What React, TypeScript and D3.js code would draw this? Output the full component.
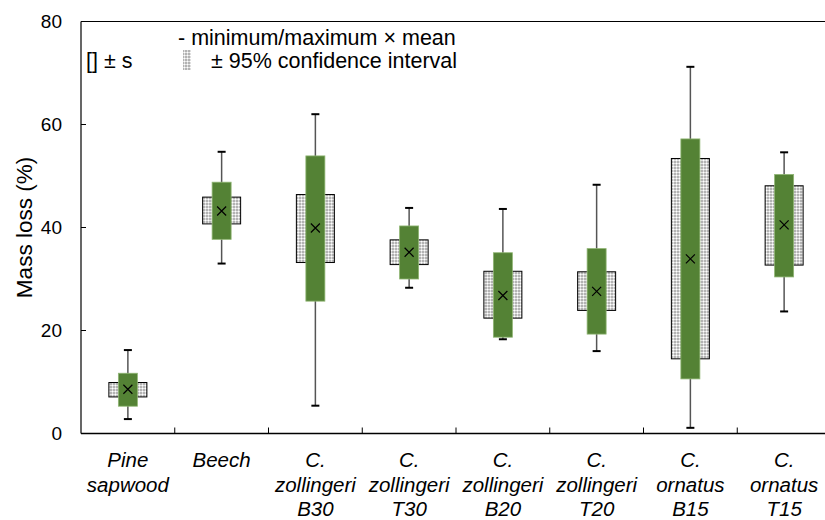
import React from "react";
import * as d3 from "d3";

// categories, label lines
const categories = ["Pine sapwood", "Beech", "C. zollingeri B30", "C. zollingeri T30", "C. zollingeri B20", "C. zollingeri T20", "C. ornatus B15", "C. ornatus T15"];
const labelLines = [
  ["Pine", "sapwood"],
  ["Beech"],
  ["C.", "zollingeri", "B30"],
  ["C.", "zollingeri", "T30"],
  ["C.", "zollingeri", "B20"],
  ["C.", "zollingeri", "T20"],
  ["C.", "ornatus", "B15"],
  ["C.", "ornatus", "T15"],
];

// values (mass loss %)
const minVals = [2.8, 33.0, 5.4, 28.3, 18.3, 16.0, 1.1, 23.7];
const maxVals = [16.2, 54.7, 62.0, 43.8, 43.6, 48.3, 71.2, 54.6];
const meanVals = [8.6, 43.2, 39.9, 35.2, 26.8, 27.6, 33.9, 40.5];
const sdLow = [5.3, 37.7, 25.7, 30.0, 18.7, 19.3, 10.6, 30.4];
const sdHigh = [11.7, 48.8, 53.9, 40.3, 35.1, 35.9, 57.2, 50.3];
const ciLow = [7.1, 40.7, 33.2, 32.8, 22.4, 23.9, 14.5, 32.7];
const ciHigh = [9.9, 45.9, 46.4, 37.6, 31.5, 31.4, 53.4, 48.1];
const yTicks = [0, 20, 40, 60, 80];

const W = 825, H = 520;
const font = "'Liberation Sans', Arial, sans-serif";
const green = "#548235";

export default function App() {
  const x = d3.scaleBand().domain(categories).range([81, 831]).padding(0);
  const y = d3.scaleLinear().domain([0, 80]).range([433.5, 21.5]);
  const bw = x.bandwidth();

  return (
    <svg width={W} height={H} style={{ position: "absolute", left: 0, top: 0 }} fontFamily={font}>
      <defs>
        <pattern id="dots" width="3" height="3" patternUnits="userSpaceOnUse">
          <rect width="3" height="3" fill="#9a9a9a" />
          <circle cx="1.5" cy="1.5" r="1.2" fill="#fff" />
        </pattern>
      </defs>
      <rect width={W} height={H} fill="#fff" />

      {/* frame */}
      <line x1={81} x2={831} y1={y(80)} y2={y(80)} stroke="#000" strokeWidth={1.2} />
      <line x1={81} x2={81} y1={y(80)} y2={y(0)} stroke="#000" strokeWidth={1.2} />
      <line x1={81} x2={831} y1={y(0)} y2={y(0)} stroke="#000" strokeWidth={1.5} />

      {/* y ticks */}
      {yTicks.map(t => (
        <g key={t}>
          <line x1={81} x2={86} y1={y(t)} y2={y(t)} stroke="#000" />
          <text x={62} y={y(t)} dy="0.35em" textAnchor="end" fontSize={19}>{t}</text>
        </g>
      ))}
      <text transform={`translate(32,${y(40)}) rotate(-90)`} textAnchor="middle" fontSize={22.5}>Mass loss (%)</text>

      {/* x ticks */}
      {categories.map((c, i) => i > 0 ? (
        <line key={c} x1={x(c)!} x2={x(c)!} y1={y(0)} y2={y(0) - 6} stroke="#000" />
      ) : null)}

      {/* boxes */}
      {categories.map((c, i) => {
        const cx = x(c)! + bw / 2;
        const m = meanVals[i];
        return (
          <g key={c}>
            <line x1={cx} x2={cx} y1={y(maxVals[i])} y2={y(minVals[i])} stroke="#555" strokeWidth={1.5} />
            <line x1={cx - 4} x2={cx + 4} y1={y(maxVals[i])} y2={y(maxVals[i])} stroke="#000" strokeWidth={2} />
            <line x1={cx - 4} x2={cx + 4} y1={y(minVals[i])} y2={y(minVals[i])} stroke="#000" strokeWidth={2} />
            <rect x={cx - 19} width={38} y={y(ciHigh[i])} height={y(ciLow[i]) - y(ciHigh[i])} fill="url(#dots)" stroke="#000" strokeWidth={1} />
            <rect x={cx - 9.5} width={19} y={y(sdHigh[i])} height={y(sdLow[i]) - y(sdHigh[i])} fill={green} stroke="#8fb573" strokeWidth={0.8} />
            <path d={`M${cx - 4.5},${y(m) - 4.5}L${cx + 4.5},${y(m) + 4.5}M${cx + 4.5},${y(m) - 4.5}L${cx - 4.5},${y(m) + 4.5}`} stroke="#000" strokeWidth={1.2} />
          </g>
        );
      })}

      {/* x labels */}
      {categories.map((c, i) => (
        <text key={c} x={x(c)! + bw / 2} textAnchor="middle" fontSize={20.5} fontStyle="italic">
          {labelLines[i].map((l, j) => (
            <tspan key={j} x={x(c)! + bw / 2} y={467 + j * 24.5}>{l}</tspan>
          ))}
        </text>
      ))}

      {/* legend */}
      <text x={178} y={45} fontSize={21.5}>- minimum/maximum × mean</text>
      <text x={86} y={68} fontSize={21.5}>[] ± s</text>
      <rect x={183} y={50} width={8} height={20} fill="url(#dots)" />
      <text x={211} y={68} fontSize={21.5}>± 95% confidence interval</text>
    </svg>
  );
}
